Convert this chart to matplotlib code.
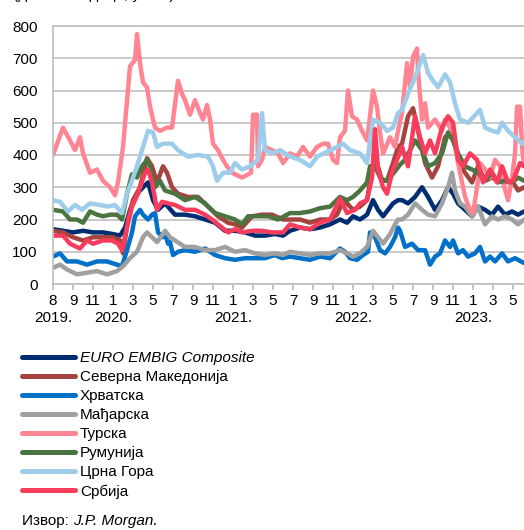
import matplotlib.pyplot as plt
from matplotlib.lines import Line2D

plt.rcParams['font.family'] = ['Liberation Sans', 'DejaVu Sans']

# x = position along the axis (one step = one tick interval), y = basis points
embig = [(0, 170), (0.5, 165), (1.0, 160), (1.5, 165), (2.0, 160), (2.5, 160), (3.0, 155), (3.35, 150),
         (3.6, 175), (3.85, 230), (4.2, 280), (4.5, 300), (4.75, 315), (5.0, 260), (5.25, 230), (5.6, 250),
         (6.1, 215), (6.6, 215), (7.1, 210), (7.6, 200), (8.1, 190), (8.6, 165), (9.1, 165), (9.6, 160),
         (10.1, 150), (10.6, 150), (11.1, 155), (11.5, 150), (11.85, 165), (12.35, 175), (12.85, 170),
         (13.35, 175), (13.85, 185), (14.35, 200), (14.7, 190), (15.0, 210), (15.35, 200), (15.7, 215),
         (16.0, 260), (16.25, 230), (16.5, 210), (16.75, 230), (17.0, 250), (17.25, 260), (17.45, 260),
         (17.75, 250), (18.1, 270), (18.45, 300), (18.75, 270), (19.1, 230), (19.45, 260), (19.75, 300),
         (20.0, 280), (20.25, 250), (20.6, 230), (20.95, 210), (21.25, 240), (21.6, 230), (21.95, 215),
         (22.25, 240), (22.6, 215), (22.95, 225), (23.25, 215), (23.55, 225)]

macedonia = [(0, 165), (0.5, 160), (1.0, 145), (1.5, 135), (2.0, 145), (2.5, 145), (3.0, 145), (3.35, 135),
             (3.5, 95), (3.75, 200), (4.0, 260), (4.35, 300), (4.7, 390), (4.95, 365), (5.2, 315), (5.5, 365),
             (5.7, 345), (5.95, 300), (6.25, 280), (6.75, 270), (7.25, 270), (7.75, 240), (8.25, 210),
             (8.75, 190), (9.1, 185), (9.45, 175), (9.95, 210), (10.45, 215), (10.95, 215), (11.5, 200),
             (11.85, 200), (12.35, 200), (12.85, 190), (13.35, 200), (13.85, 200), (14.2, 215), (14.45, 250),
             (14.7, 250), (15.0, 230), (15.35, 240), (15.7, 260), (15.95, 355), (16.2, 375), (16.45, 320),
             (16.7, 320), (17.0, 375), (17.25, 425), (17.45, 435), (17.75, 520), (18.0, 545), (18.25, 475),
             (18.6, 375), (18.95, 330), (19.25, 365), (19.6, 455), (19.95, 475), (20.25, 385), (20.6, 345),
             (20.95, 315), (21.25, 365), (21.6, 320), (21.95, 330), (22.25, 320), (22.6, 315), (22.95, 320),
             (23.25, 290), (23.55, 300)]

croatia = [(0, 85), (0.35, 95), (0.7, 70), (1.2, 70), (1.7, 60), (2.2, 70), (2.7, 70), (3.2, 60), (3.45, 55),
           (3.7, 105), (3.95, 160), (4.1, 210), (4.35, 230), (4.5, 215), (4.75, 200), (4.95, 215), (5.1, 220),
           (5.25, 160), (5.5, 145), (5.6, 160), (5.75, 125), (5.85, 130), (6.0, 90), (6.25, 100), (6.6, 105),
           (7.1, 100), (7.6, 110), (8.1, 90), (8.6, 80), (9.1, 75), (9.6, 80), (10.1, 80), (10.6, 80),
           (11.1, 90), (11.45, 80), (11.85, 85), (12.35, 80), (12.85, 75), (13.35, 85), (13.85, 80),
           (14.35, 110), (14.6, 100), (14.85, 80), (15.2, 75), (15.5, 90), (15.75, 100), (15.85, 160),
           (16.1, 145), (16.35, 105), (16.6, 95), (16.85, 115), (17.1, 145), (17.25, 175), (17.35, 165),
           (17.6, 115), (17.95, 125), (18.25, 105), (18.6, 105), (18.85, 60), (19.1, 85), (19.35, 95),
           (19.6, 135), (19.85, 115), (20.0, 135), (20.25, 95), (20.5, 105), (20.75, 85), (21.1, 95),
           (21.35, 115), (21.6, 70), (21.85, 85), (22.1, 70), (22.45, 95), (22.75, 70), (23.1, 80), (23.55, 65)]

hungary = [(0, 50), (0.35, 60), (0.7, 45), (1.2, 30), (1.7, 35), (2.2, 40), (2.7, 30), (3.2, 40), (3.5, 55),
           (3.85, 80), (4.2, 100), (4.5, 145), (4.7, 160), (4.95, 145), (5.2, 130), (5.5, 155), (5.6, 165),
           (5.85, 145), (6.1, 135), (6.6, 115), (7.1, 115), (7.6, 105), (8.1, 105), (8.6, 115), (9.1, 100),
           (9.6, 105), (10.1, 95), (10.6, 90), (11.1, 95), (11.5, 90), (11.85, 100), (12.35, 95), (12.85, 90),
           (13.35, 95), (13.85, 95), (14.35, 105), (14.7, 95), (15.0, 85), (15.35, 95), (15.7, 115),
           (16.0, 165), (16.25, 145), (16.5, 125), (16.85, 155), (17.1, 185), (17.25, 200), (17.45, 200),
           (17.75, 215), (18.1, 250), (18.45, 230), (18.75, 215), (19.1, 210), (19.45, 250), (19.75, 300),
           (19.95, 345), (20.1, 290), (20.35, 250), (20.6, 240), (20.95, 210), (21.25, 240), (21.6, 185),
           (21.95, 210), (22.25, 200), (22.6, 210), (22.95, 200), (23.25, 185), (23.55, 200)]

turkey = [(0, 400), (0.5, 485), (0.85, 445), (1.1, 415), (1.35, 455), (1.5, 405), (1.85, 345), (2.2, 355),
          (2.5, 320), (2.85, 300), (3.1, 275), (3.25, 315), (3.5, 425), (3.85, 675), (4.1, 695), (4.2, 775),
          (4.35, 685), (4.5, 625), (4.7, 610), (4.85, 550), (5.1, 485), (5.35, 475), (5.7, 485), (5.95, 485),
          (6.25, 630), (6.45, 590), (6.6, 570), (6.85, 525), (7.1, 570), (7.35, 530), (7.5, 510), (7.7, 555),
          (7.85, 510), (8.0, 435), (8.25, 415), (8.5, 385), (8.7, 365), (8.95, 345), (9.45, 330), (9.9, 345),
          (10.0, 525), (10.2, 525), (10.25, 365), (10.45, 385), (10.6, 425), (10.95, 415), (11.25, 405),
          (11.5, 375), (11.85, 405), (12.2, 395), (12.5, 425), (12.85, 395), (13.2, 425), (13.5, 435),
          (13.75, 435), (14.0, 385), (14.2, 375), (14.35, 455), (14.6, 475), (14.75, 600), (14.95, 520),
          (15.2, 510), (15.45, 475), (15.7, 445), (16.0, 600), (16.2, 550), (16.35, 470), (16.5, 405),
          (16.85, 455), (17.1, 425), (17.25, 475), (17.45, 530), (17.7, 685), (17.85, 610), (18.0, 705),
          (18.2, 730), (18.25, 660), (18.45, 510), (18.6, 560), (18.75, 485), (19.1, 510), (19.45, 475),
          (19.6, 510), (19.85, 485), (20.1, 425), (20.35, 345), (20.6, 270), (20.85, 230), (21.0, 220),
          (21.2, 300), (21.35, 375), (21.6, 355), (21.85, 330), (22.1, 385), (22.35, 365), (22.5, 315),
          (22.75, 260), (22.95, 330), (23.1, 405), (23.2, 550), (23.35, 550), (23.45, 425), (23.55, 365)]

romania = [(0, 230), (0.5, 225), (0.85, 200), (1.2, 200), (1.5, 190), (1.85, 225), (2.2, 215), (2.5, 210),
           (2.85, 215), (3.2, 215), (3.45, 200), (3.7, 280), (3.95, 340), (4.2, 330), (4.45, 365), (4.7, 385),
           (4.85, 365), (5.1, 300), (5.35, 320), (5.6, 290), (6.1, 280), (6.6, 260), (7.1, 270), (7.6, 250),
           (8.1, 220), (8.6, 210), (9.1, 200), (9.45, 185), (9.75, 210), (10.25, 210), (10.75, 210),
           (11.25, 200), (11.85, 220), (12.35, 220), (12.85, 225), (13.35, 235), (13.85, 240), (14.35, 270),
           (14.7, 260), (15.0, 270), (15.35, 290), (15.7, 315), (15.85, 365), (16.1, 365), (16.35, 330),
           (16.6, 320), (16.85, 330), (17.1, 350), (17.35, 370), (17.6, 385), (18.1, 445), (18.45, 415),
           (18.75, 365), (19.1, 375), (19.45, 405), (19.75, 470), (20.0, 445), (20.25, 405), (20.6, 365),
           (20.95, 355), (21.25, 345), (21.6, 320), (21.95, 345), (22.25, 315), (22.6, 320), (22.95, 315),
           (23.25, 330), (23.55, 320)]

montenegro = [(0, 260), (0.35, 255), (0.75, 225), (1.1, 245), (1.45, 230), (1.85, 250), (2.35, 245),
              (2.75, 240), (3.1, 245), (3.45, 220), (3.7, 280), (4.0, 330), (4.25, 375), (4.5, 425),
              (4.75, 475), (5.0, 470), (5.2, 425), (5.5, 435), (5.95, 435), (6.25, 415), (6.75, 395),
              (7.25, 400), (7.75, 395), (8.0, 365), (8.2, 320), (8.5, 345), (8.85, 345), (9.1, 375),
              (9.45, 355), (9.85, 365), (10.25, 385), (10.45, 530), (10.6, 415), (10.95, 405), (11.35, 415),
              (11.85, 395), (12.35, 385), (12.85, 365), (13.2, 395), (13.7, 410), (14.2, 425), (14.5, 435),
              (14.85, 415), (15.35, 405), (15.7, 375), (16.0, 510), (16.35, 500), (16.7, 475), (17.0, 485),
              (17.25, 530), (17.45, 540), (17.75, 590), (18.1, 640), (18.5, 710), (18.75, 655), (19.0, 630),
              (19.25, 610), (19.6, 650), (19.85, 625), (20.1, 560), (20.35, 510), (20.75, 500), (21.2, 530),
              (21.35, 540), (21.6, 485), (21.95, 475), (22.25, 470), (22.45, 500), (22.75, 475), (23.1, 455),
              (23.45, 435), (23.55, 440)]

serbia = [(0, 150), (0.5, 150), (0.85, 125), (1.35, 110), (1.7, 135), (2.0, 125), (2.5, 135), (2.95, 135),
          (3.25, 125), (3.45, 105), (3.7, 175), (3.95, 240), (4.25, 280), (4.6, 345), (4.75, 355), (4.95, 315),
          (5.2, 230), (5.45, 255), (5.75, 250), (6.1, 245), (6.6, 230), (7.1, 230), (7.6, 215), (7.95, 200),
          (8.45, 175), (8.75, 160), (9.1, 170), (9.45, 160), (9.95, 165), (10.45, 165), (10.95, 160),
          (11.5, 160), (11.85, 185), (12.35, 175), (12.85, 170), (13.35, 190), (13.85, 200), (14.35, 265),
          (14.7, 220), (15.1, 230), (15.35, 250), (15.7, 260), (15.95, 330), (16.1, 480), (16.25, 355),
          (16.5, 300), (16.7, 280), (16.95, 345), (17.2, 385), (17.45, 425), (17.75, 365), (18.1, 520),
          (18.35, 455), (18.6, 405), (18.85, 445), (19.1, 405), (19.45, 485), (19.75, 520), (20.0, 500),
          (20.25, 385), (20.5, 365), (20.85, 405), (21.2, 385), (21.5, 315), (21.85, 355), (22.2, 315),
          (22.45, 365), (22.75, 315), (23.0, 320), (23.35, 375), (23.55, 365)]

series = [
    ('EURO EMBIG Composite', embig, '#002D72'),
    ('Северна Македонија', macedonia, '#A5433E'),
    ('Хрватска', croatia, '#0070C8'),
    ('Мађарска', hungary, '#A0A0A0'),
    ('Турска', turkey, '#FF8593'),
    ('Румунија', romania, '#4A7440'),
    ('Црна Гора', montenegro, '#9DCDEB'),
    ('Србија', serbia, '#F73C5C'),
]

month_labels = ['8', '9', '11', '1', '3', '5', '7', '9', '11', '1', '3', '5',
                '7', '9', '11', '1', '3', '5', '7', '9', '11', '1', '3', '5']
year_labels = ['2019.', '2020.', '2021.', '2022.', '2023.']
year_pos = [0, 3, 9, 15, 21]

fig = plt.figure(figsize=(5.24, 5.30), dpi=100)
ax = fig.add_axes([53 / 524, 1 - 284 / 530, 1 - 53 / 524 + 0.002, 258 / 530])

handles = []
for name, pts, col in series:
    xs = [p[0] for p in pts]
    ys = [p[1] for p in pts]
    ax.plot(xs, ys, color=col, lw=3.2, solid_joinstyle='round', solid_capstyle='round')
    handles.append(Line2D([], [], color=col, lw=3.6, solid_capstyle='round'))

ax.set_xlim(0, 23.6)
ax.set_ylim(0, 800)
ax.set_yticks(range(0, 801, 100))
ax.set_xticks(range(len(month_labels)))
ax.set_xticklabels(month_labels)
ax.grid(axis='y', color='#C0C0C0', lw=1.2)
ax.set_axisbelow(True)
ax.spines['right'].set_visible(False)
for s in ['left', 'bottom', 'top']:
    ax.spines[s].set_color('#BFBFBF')
    ax.spines[s].set_linewidth(1.2)
ax.tick_params(axis='y', length=0, pad=11, labelsize=11)
ax.tick_params(axis='x', length=4, width=1.2, color='#BFBFBF', pad=3, labelsize=11)

for lab, p in zip(year_labels, year_pos):
    ax.text(p, -0.132, lab, transform=ax.get_xaxis_transform(), ha='center', va='center', fontsize=11)

# heading of the source chart, cut off by the top edge as in the original
fig.text(13 / 524, 1 + 0.5 / 530, '(дневни подаци, у б.п.)', fontsize=11, va='baseline')

leg = fig.legend(handles, [s[0] for s in series], loc='upper left',
                 bbox_to_anchor=(22 / 524, 1 - 351 / 530), frameon=False, fontsize=11,
                 handlelength=3.45, handletextpad=0.35, labelspacing=0.33, borderpad=0, borderaxespad=0)
leg.get_texts()[0].set_fontstyle('italic')

fig.canvas.draw()
t1 = fig.text(22 / 524, 1 - 521 / 530, 'Извор: ', fontsize=11, va='center')
bb = t1.get_window_extent(fig.canvas.get_renderer())
fig.text(bb.x1 / fig.bbox.width, 1 - 521 / 530, 'J.P. Morgan.', fontsize=11, va='center', fontstyle='italic')

fig.savefig('out.png', dpi=100)
